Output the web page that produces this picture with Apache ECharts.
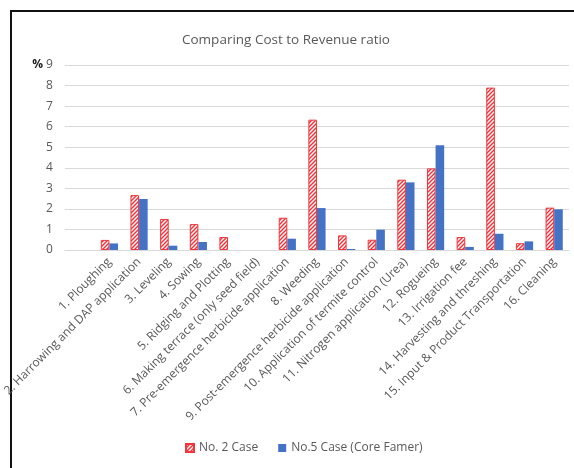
<!DOCTYPE html>
<html>
<head>
<meta charset="utf-8">
<script src="https://cdn.jsdelivr.net/npm/echarts@6/dist/echarts.min.js"></script>
<style>
  html, body { margin: 0; padding: 0; background: #fff; }
  #chart { width: 574px; height: 468px; }
</style>
</head>
<body>
<div id="chart"></div>
<script>
// Farm operations (the leading blank slot keeps an empty first column)
const categories = [
  '',
  '1. Ploughing',
  '2. Harrowing and DAP application',
  '3. Leveling',
  '4. Sowing',
  '5. Ridging and Plotting',
  '6. Making terrace (only seed field)',
  '7. Pre-emergence herbicide application',
  '8. Weeding',
  '9. Post-emergence herbicide application',
  '10. Application of termite control',
  '11. Nitrogen application (Urea)',
  '12. Rogueing',
  '13. Irrigation fee',
  '14. Harvesting and threshing',
  '15. Input & Product Transportation',
  '16. Cleaning'
];

// Cost to revenue ratio, % (null = no cost recorded)
const case2 = [null, 0.49, 2.67, 1.51, 1.26, 0.63, null, 1.57, 6.34, 0.71, 0.50, 3.42, 3.97, 0.63, 7.90, 0.33, 2.06];
const case5 = [null, 0.32, 2.48, 0.21, 0.39, null, null, 0.55, 2.04, 0.05, 0.99, 3.29, 5.09, 0.15, 0.79, 0.42, 1.98];

const seriesNames = ['No. 2 Case', 'No.5 Case (Core Famer)'];
const yTicks = { min: 0, max: 9, interval: 1 };

// diagonal red hatch fill
function hatch() {
  const c = document.createElement('canvas');
  c.width = 4; c.height = 4;
  const g = c.getContext('2d');
  g.fillStyle = '#ffffff';
  g.fillRect(0, 0, 4, 4);
  g.strokeStyle = '#f0363c';
  g.lineWidth = 1.5;
  g.beginPath();
  g.moveTo(-1, 5); g.lineTo(5, -1);
  g.moveTo(-1, 1); g.lineTo(1, -1);
  g.moveTo(3, 5); g.lineTo(5, 3);
  g.stroke();
  return c;
}

const font = '"Open Sans", "Liberation Sans", sans-serif';
const chart = echarts.init(document.getElementById('chart'), null, { renderer: 'canvas' });

chart.setOption({
  animation: false,
  textStyle: { fontFamily: font },
  title: {
    text: 'Comparing Cost to Revenue ratio',
    left: 177,
    top: 28,
    textStyle: { fontSize: 13.5, fontWeight: 'normal', color: '#595959', fontFamily: font }
  },
  graphic: [{
    type: 'rect',
    shape: { x: 11, y: 11, width: 620, height: 520 },
    style: { fill: 'none', stroke: '#111', lineWidth: 2 },
    silent: true
  }],
  legend: {
    bottom: 9,
    left: 180,
    itemWidth: 8,
    itemHeight: 8,
    itemGap: 20,
    icon: 'rect',
    textStyle: { fontSize: 12, color: '#595959', fontFamily: font },
    data: seriesNames
  },
  grid: { left: 60, right: 5, top: 65, bottom: 218, containLabel: false },
  xAxis: {
    type: 'category',
    data: categories,
    axisLine: { lineStyle: { color: '#d9d9d9' } },
    axisTick: { show: false },
    axisLabel: {
      rotate: 45,
      interval: 0,
      margin: 10,
      fontSize: 12,
      color: '#595959',
      fontFamily: font
    }
  },
  yAxis: {
    type: 'value',
    min: yTicks.min,
    max: yTicks.max,
    interval: yTicks.interval,
    axisLine: { show: false },
    axisTick: { show: false },
    splitLine: { lineStyle: { color: '#d9d9d9', width: 1 } },
    axisLabel: {
      fontSize: 12,
      color: '#595959',
      margin: 12,
      fontFamily: font,
      formatter: v => v === yTicks.max ? '{p|%} ' + v : String(v),
      rich: { p: { fontWeight: 'bold', color: '#222', fontSize: 12, fontFamily: font } }
    }
  },
  series: [
    {
      name: seriesNames[0],
      type: 'bar',
      data: case2,
      barGap: '0%',
      barCategoryGap: '42%',
      itemStyle: {
        color: { image: hatch(), repeat: 'repeat' },
        borderColor: '#f0363c',
        borderWidth: 1
      }
    },
    {
      name: seriesNames[1],
      type: 'bar',
      data: case5,
      itemStyle: { color: '#4472c4' }
    }
  ]
});
</script>
</body>
</html>
